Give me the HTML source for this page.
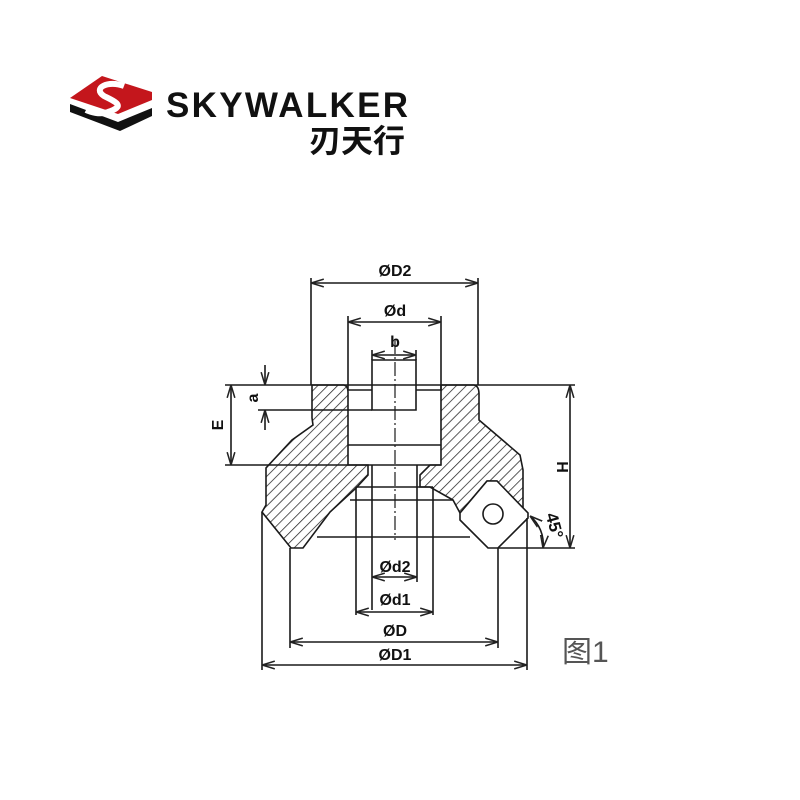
<!DOCTYPE html>
<html><head><meta charset="utf-8"><style>
html,body{margin:0;padding:0;background:#fff;}
svg{display:block}
text{font-family:"Liberation Sans","Noto Sans CJK SC",sans-serif;}
</style></head><body>
<svg width="800" height="800" viewBox="0 0 800 800" xmlns="http://www.w3.org/2000/svg">
<defs>
<pattern id="h" patternUnits="userSpaceOnUse" width="7" height="7" patternTransform="rotate(45)">
<line x1="0" y1="0" x2="0" y2="7" stroke="#222" stroke-width="1.5"/>
</pattern>
<marker id="a" viewBox="0 0 10 10" refX="10" refY="5" markerWidth="8" markerHeight="8" orient="auto-start-reverse">
<path d="M0,2 L10,5 L0,8" fill="none" stroke="#222" stroke-width="1.2"/>
</marker>
</defs>
<!-- logo -->
<path d="M70,98 L102,76 L152,92 L152,100 L118,114 Z" fill="#c4161c"/>
<path d="M70,104 L118,122 L152,108 L152,116 L120,131 L70,112 Z" fill="#111"/>
<path d="M124,86 C108,80 92,88 104,96 C116,102 126,106 108,112 C100,115 90,112 86,110" fill="none" stroke="#fff" stroke-width="6"/>
<text x="166" y="117" font-size="35" font-weight="bold" fill="#111" letter-spacing="2.3">SKYWALKER</text>
<text x="309" y="152" font-size="32" font-weight="bold" fill="#111" font-family="'Noto Sans CJK SC',sans-serif">刃天行</text>

<g stroke="#1a1a1a" stroke-width="1.6" fill="none">
<path d="M312,385 L344,385 Q348,386 348,392 L348,465 L368,465 L368,475 L356,488 L330,512 L303,548 L291,548 L262,512 L266,505 L266,468 L292,440 L313,425 L312,418 Z" fill="url(#h)"/>
<path d="M441,385 L474,385 Q479,386 479,394 L479,420 L520,455 L523,470 L523,510 L512,498 L497,481 L487,481 L460,513 L453,500 L430,487 L420,487 L420,475 L430,465 L441,465 Z" fill="url(#h)"/>
<path d="M487,481 L497,481 L528,513 L528,518 L498,548 L488,548 L460,520 L460,513 Z" fill="#fff"/>
<circle cx="493" cy="514" r="10"/>
<path d="M348,390 L372,390 M416,390 L441,390 M348,445 L441,445 M311,465 L441,465"/>
<path d="M372,360 L372,410 L416,410 L416,360 Z"/>
<path d="M372,465 L372,610 M417,465 L417,582"/>
<path d="M356,487 L433,487 M356,487 L356,615 M433,487 L433,615"/>
<path d="M350,500 L453,500 M317,537 L470,537"/>
<path d="M395,340 L395,540" stroke-dasharray="14,3,2,3" stroke-width="1.2"/>
<path d="M311,278 L311,385 M478,278 L478,385 M348,316 L348,390 M441,316 L441,390 M372,350 L372,360 M416,350 L416,360"/>
<path d="M225,385 L575,385 M225,465 L311,465 M258,410 L372,410"/>
<path d="M290,548 L290,648 M498,548 L498,648 M262,512 L262,670 M527,518 L527,670 M498,548 L575,548"/>
<path d="M311,283 L478,283" marker-start="url(#a)" marker-end="url(#a)"/>
<path d="M348,322 L441,322" marker-start="url(#a)" marker-end="url(#a)"/>
<path d="M372,355 L416,355" marker-start="url(#a)" marker-end="url(#a)"/>
<path d="M372,577 L417,577" marker-start="url(#a)" marker-end="url(#a)"/>
<path d="M356,612 L433,612" marker-start="url(#a)" marker-end="url(#a)"/>
<path d="M290,642 L498,642" marker-start="url(#a)" marker-end="url(#a)"/>
<path d="M262,665 L527,665" marker-start="url(#a)" marker-end="url(#a)"/>
<path d="M231,385 L231,465" marker-start="url(#a)" marker-end="url(#a)"/>
<path d="M570,385 L570,548" marker-start="url(#a)" marker-end="url(#a)"/>
<path d="M265,365 L265,385" marker-end="url(#a)"/>
<path d="M265,430 L265,410" marker-end="url(#a)"/>
<path d="M543,548 A36,36 0 0 0 530,516" marker-start="url(#a)" marker-end="url(#a)"/>
</g>
<g fill="#111" font-size="16" font-weight="bold" text-anchor="middle">
<text x="395" y="276">ØD2</text>
<text x="395" y="316">Ød</text>
<text x="395" y="347">b</text>
<text x="395" y="572">Ød2</text>
<text x="395" y="605">Ød1</text>
<text x="395" y="636">ØD</text>
<text x="395" y="660">ØD1</text>
<text transform="translate(258,398) rotate(-90)">a</text>
<text transform="translate(223,425) rotate(-90)">E</text>
<text transform="translate(557,467) rotate(90)">H</text>
<text transform="translate(549,527) rotate(75)" font-size="17">45°</text>
</g>
<text x="562" y="662" font-size="30" fill="#555" font-family="'Noto Sans CJK SC',sans-serif">图1</text>
</svg>
</body></html>
